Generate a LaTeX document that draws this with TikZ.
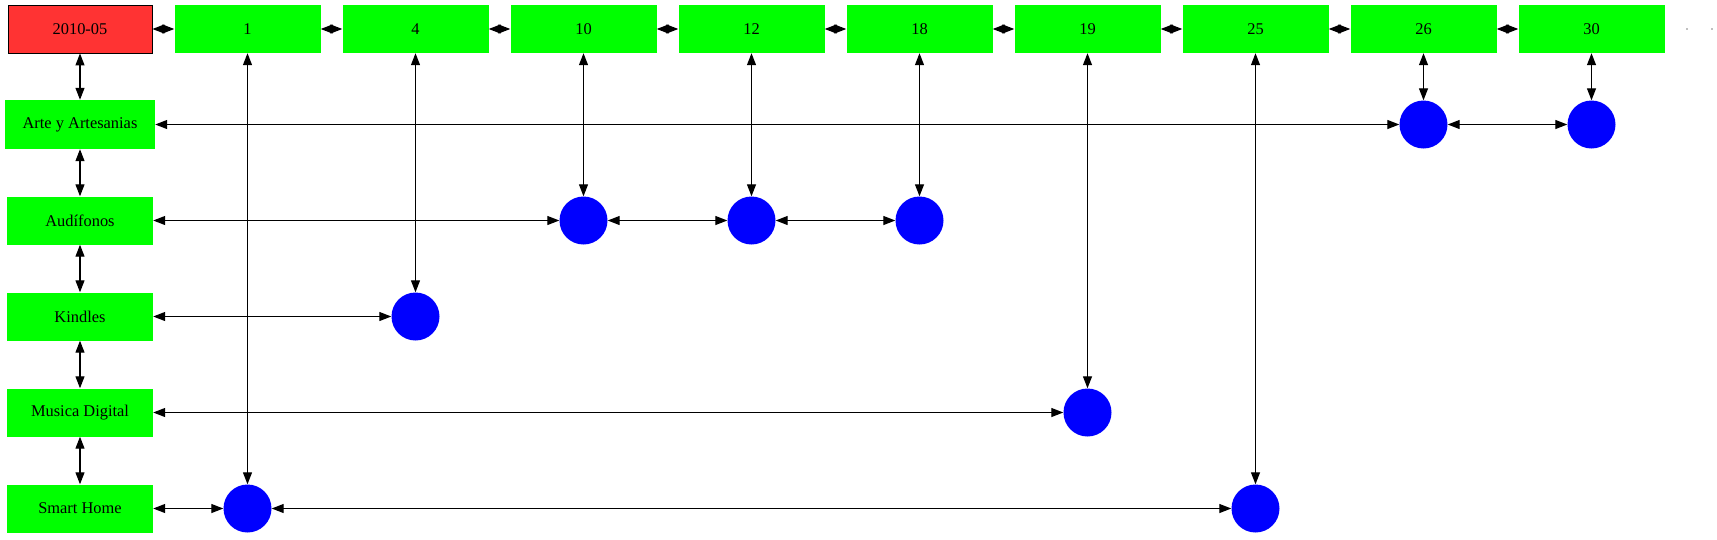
\documentclass[tikz,border=0pt]{standalone}
\usepackage{fontspec}
\setmainfont{Liberation Serif}
\usetikzlibrary{arrows.meta}
\begin{document}
\begin{tikzpicture}[x=1pt,y=-1pt,
  gbox/.style={draw=none, minimum width=146pt, minimum height=48pt, inner sep=0pt, font=\fontsize{16.4}{18}\selectfont},
  lbox/.style={gbox, minimum width=146pt},
  rbox/.style={fill={rgb,255:red,255;green,51;blue,51}, draw=black, line width=0.9pt, minimum width=144pt, minimum height=48pt, inner sep=0pt, font=\fontsize{16.4}{18}\selectfont},
  dot/.style={circle, fill={rgb,255:red,0;green,0;blue,255}, draw=none, minimum size=48pt, inner sep=0pt},
  link/.style={line width=1.2pt, {Triangle[length=12pt,width=9pt]}-{Triangle[length=12pt,width=9pt]}},
  tiny/.style={circle, fill=gray, inner sep=0pt, minimum size=1.8pt}
]
\useasboundingbox (0,0) rectangle (1717,539);
\definecolor{gg}{RGB}{0,255,0}
\tikzset{gbox/.append style={fill=gg}}
% top row
\node[rbox] (d) at (80,29) {2010-05};
\foreach \n/\x in {1/247.5,4/415.5,10/583.5,12/751.5,18/919.5,19/1087.5,25/1255.5,26/1423.5,30/1591.5}
  \node[gbox] (t\n) at (\x,29) {\n};
\node[tiny] (e1) at (1687,29) {};
\node[tiny] (e2) at (1712,29) {};
% left column
\node[gbox, minimum width=150pt, minimum height=49pt] (r1) at (80,124.5) {Arte y Artesanias};
\node[lbox] (r2) at (80,220.5) {Audífonos};
\node[lbox] (r3) at (80,316.5) {Kindles};
\node[lbox] (r4) at (80,412.5) {Musica Digital};
\node[lbox] (r5) at (80,508.5) {Smart Home};
% circles
\node[dot] (c26) at (1423.5,124.5) {};
\node[dot] (c30) at (1591.5,124.5) {};
\node[dot] (c10) at (583.5,220.5) {};
\node[dot] (c12) at (751.5,220.5) {};
\node[dot] (c18) at (919.5,220.5) {};
\node[dot] (c4) at (415.5,316.5) {};
\node[dot] (c19) at (1087.5,412.5) {};
\node[dot] (c1) at (247.5,508.5) {};
\node[dot] (c25) at (1255.5,508.5) {};
% top chain
\draw[link] (d) -- (t1);
\draw[link] (t1) -- (t4);
\draw[link] (t4) -- (t10);
\draw[link] (t10) -- (t12);
\draw[link] (t12) -- (t18);
\draw[link] (t18) -- (t19);
\draw[link] (t19) -- (t25);
\draw[link] (t25) -- (t26);
\draw[link] (t26) -- (t30);
% left chain
\draw[link] (d) -- (r1);
\draw[link] (r1) -- (r2);
\draw[link] (r2) -- (r3);
\draw[link] (r3) -- (r4);
\draw[link] (r4) -- (r5);
% rows
\draw[link] (r1) -- (c26);
\draw[link] (c26) -- (c30);
\draw[link] (r2) -- (c10);
\draw[link] (c10) -- (c12);
\draw[link] (c12) -- (c18);
\draw[link] (r3) -- (c4);
\draw[link] (r4) -- (c19);
\draw[link] (r5) -- (c1);
\draw[link] (c1) -- (c25);
% columns
\draw[link] (t1) -- (c1);
\draw[link] (t4) -- (c4);
\draw[link] (t10) -- (c10);
\draw[link] (t12) -- (c12);
\draw[link] (t18) -- (c18);
\draw[link] (t19) -- (c19);
\draw[link] (t25) -- (c25);
\draw[link] (t26) -- (c26);
\draw[link] (t30) -- (c30);
\end{tikzpicture}
\end{document}
